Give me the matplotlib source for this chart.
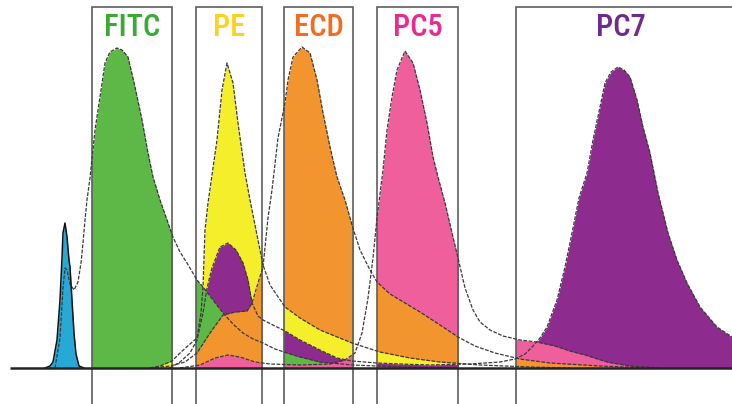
import matplotlib

matplotlib.use("Agg")

import matplotlib.pyplot as plt
from matplotlib.patches import Rectangle

# Detector bandpass windows (channel units) and their labels
detectors = ["FITC", "PE", "ECD", "PC5", "PC7"]
band_lo = [92, 196, 284, 377, 516]
band_hi = [172, 262, 353, 458, 760]

# Emission curves (channel, relative intensity)
unstained_x = [45, 50, 53, 57, 60, 62, 63, 65, 67, 69, 70, 72, 74, 76, 79, 84]
unstained_y = [0, 2, 6, 28, 68, 110, 135, 145, 131, 108, 101, 68, 35, 14, 2, 0]

fitc_x = [55, 60, 63, 65, 67, 70, 74, 78, 81, 83, 85, 87, 90, 95, 100, 105, 110, 117,
          122, 128, 135, 142, 148, 153, 160, 167, 173, 180, 187, 197, 203, 213, 223,
          233, 243, 253, 263, 275, 287, 300, 320, 353, 400, 450]
fitc_y = [0, 30, 80, 100, 98, 84, 78, 86, 105, 125, 148, 168, 190, 238, 271, 305, 316,
          320, 318, 311, 281, 248, 215, 191, 168, 148, 131, 116, 105, 88, 81, 68, 55,
          44, 35, 29, 25, 19, 15, 11, 6, 3, 1, 0]

pe_x = [150, 160, 172, 180, 190, 197, 201, 203, 205, 208, 211, 217, 222, 227, 233, 238,
        245, 250, 255, 260, 263, 270, 285, 300, 320, 352, 380, 410, 440, 480, 530, 570]
pe_y = [0, 2, 7, 15, 24, 30, 55, 81, 138, 165, 186, 228, 278, 305, 285, 245, 195, 168,
        143, 118, 103, 83, 61, 50, 38, 25, 16, 10, 6, 3, 1, 0]

ecd_x = [150, 170, 185, 197, 210, 223, 235, 247, 252, 258, 263, 268, 272, 278, 285, 288,
         293, 302, 310, 317, 323, 330, 337, 345, 352, 360, 370, 377, 390, 400, 420, 440,
         458, 475, 495, 520, 550, 600, 650]
ecd_y = [0, 2, 6, 15, 35, 53, 56, 57, 65, 85, 101, 150, 178, 230, 265, 288, 311, 321,
         315, 288, 255, 221, 191, 168, 143, 118, 98, 86, 74, 68, 56, 43, 31, 22, 15, 9,
         5, 2, 0]

pc5_x = [180, 200, 215, 228, 240, 255, 270, 300, 330, 345, 355, 362, 368, 373, 377, 383,
         387, 392, 397, 405, 413, 420, 427, 433, 438, 445, 452, 458, 465, 473, 480, 490,
         503, 520, 537, 555, 570, 585, 607, 630, 660]
pc5_y = [0, 3, 10, 13, 11, 6, 4, 3, 4, 8, 15, 35, 70, 110, 150, 198, 238, 271, 298, 317,
         305, 278, 245, 211, 191, 165, 135, 110, 80, 58, 46, 38, 32, 28, 26, 22, 17, 13,
         6, 2, 0]

pc7_x = [170, 180, 190, 197, 203, 207, 212, 220, 228, 236, 243, 248, 252, 258, 263, 275,
         285, 300, 320, 337, 352, 377, 400, 430, 470, 500, 515, 525, 533, 540, 547, 557,
         565, 572, 579, 587, 593, 600, 605, 611, 618, 624, 630, 637, 643, 650, 658, 668,
         677, 687, 700, 717, 732, 750]
pc7_y = [0, 6, 15, 28, 55, 80, 100, 121, 125, 118, 105, 88, 65, 52, 48, 42, 37, 28, 18,
         10, 7, 5, 4, 3, 4, 6, 9, 14, 22, 30, 41, 68, 101, 135, 170, 195, 228, 261, 285,
         296, 301, 298, 291, 268, 241, 215, 175, 135, 108, 85, 61, 41, 31, 20]

curves = {
    "FITC": (fitc_x, fitc_y),
    "PE": (pe_x, pe_y),
    "ECD": (ecd_x, ecd_y),
    "PC5": (pc5_x, pc5_y),
    "PC7": (pc7_x, pc7_y),
}

fill_colors = {"FITC": "#5db848", "PE": "#f5ee2a", "ECD": "#f3952f",
               "PC5": "#ee5f9c", "PC7": "#8e2b8e"}
label_colors = {"FITC": "#3aaa35", "PE": "#fdd21c", "ECD": "#f26c22",
                "PC5": "#ec2a8c", "PC7": "#6e2a8f"}
unstained_color = "#27a9d6"

# Spillover layering inside each detector window (drawn bottom first)
layer_order = {
    "FITC": ["FITC", "PE", "ECD", "PC7", "PC5"],
    "PE": ["PE", "PC7", "FITC", "ECD", "PC5"],
    "ECD": ["ECD", "PE", "PC7", "FITC", "PC5"],
    "PC5": ["PC5", "ECD", "PE", "PC7", "FITC"],
    "PC7": ["PC7", "PC5", "ECD", "PE", "FITC"],
}

fig = plt.figure(figsize=(7.32, 4.04), dpi=100)
ax = fig.add_axes([0, 0, 1, 1])
ax.set_xlim(0, 732)
ax.set_ylim(-36, 368)
ax.axis("off")

box_top = 361
box_bottom = -45

for name, lo, hi in zip(detectors, band_lo, band_hi):
    clip = Rectangle((lo, box_bottom), hi - lo, box_top - box_bottom,
                     transform=ax.transData, facecolor="none", edgecolor="none")
    ax.add_patch(clip)
    for dye in layer_order[name]:
        xs, ys = curves[dye]
        poly = ax.fill_between(xs, 0, ys, color=fill_colors[dye], lw=0, zorder=1)
        poly.set_clip_path(clip)

ax.fill_between(unstained_x, 0, unstained_y, color=unstained_color, lw=0, zorder=1)

for name, lo, hi in zip(detectors, band_lo, band_hi):
    ax.add_patch(Rectangle((lo, box_bottom), hi - lo, box_top - box_bottom,
                           facecolor="none", edgecolor="#5e5e5e", lw=1.2, zorder=2))
    xc = (lo + hi) / 2 if hi < 732 else 621
    ax.text(xc, 340, name, color=label_colors[name], fontsize=22, fontweight="medium",
            ha="center", va="center", family=["Roboto Condensed", "Liberation Sans"],
            zorder=5)

for dye, (xs, ys) in curves.items():
    ax.plot(xs, ys, color="#3a3a3a", lw=0.9, linestyle=(0, (3, 1.2)), zorder=3)

ax.plot(unstained_x, unstained_y, color="#111111", lw=1.1, zorder=3)
ax.plot([10, 732], [0, 0], color="#222222", lw=1.8, zorder=4, solid_capstyle="butt")

fig.savefig("out.png", dpi=100)
plt.close(fig)
